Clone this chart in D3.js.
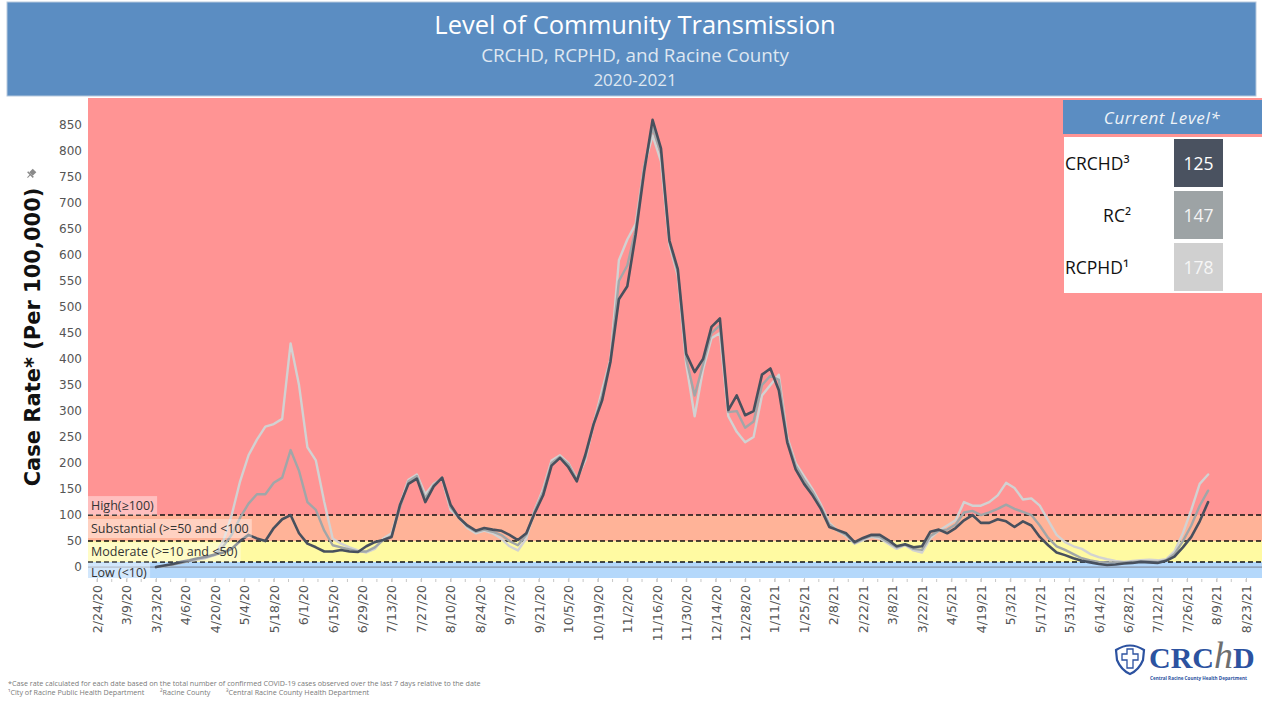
<!DOCTYPE html>
<html><head><meta charset="utf-8">
<script src="https://cdn.jsdelivr.net/npm/d3@7"></script>
<style>
body{margin:0;background:#fff;}
svg{display:block;}
</style></head>
<body>
<svg id="chart" width="1262" height="702"></svg>
<script>
// ---------------- DATA ----------------
const seriesNames = ["RCPHD", "RC", "CRCHD"];
const sampleStart = "3/23/20";   // first sample date
const sampleStepDays = 4;        // samples every 4 days

const rcphd = [0,2,5,8,12,15,18,24,50,100,
165,215,245,270,275,285,430,350,230,205,
125,55,45,38,32,28,35,55,65,120,
168,178,140,160,170,110,95,75,65,70,
65,55,40,32,55,110,150,205,215,200,
170,205,275,340,400,590,630,660,770,830,
780,620,560,390,290,380,440,450,290,260,
240,250,330,350,370,250,200,175,150,120,
85,70,60,45,52,58,55,45,35,42,
32,28,55,70,80,90,125,118,118,125,
138,162,152,130,132,118,90,62,48,40,
35,25,19,15,12,10,12,13,14,13,
15,30,65,110,160,178];

const rc = [0,2,5,8,12,15,18,23,40,62,
95,122,140,140,162,172,225,185,125,110,
70,42,38,34,30,30,38,52,60,115,
165,175,132,158,172,115,95,78,68,72,
68,62,50,42,62,108,145,200,212,198,
168,210,275,330,398,550,580,650,770,845,
795,625,566,400,330,390,450,465,298,300,
268,280,350,368,360,245,195,168,145,116,
82,70,62,46,54,60,58,48,38,43,
35,33,60,70,72,82,105,108,100,105,
112,120,112,106,100,80,56,40,33,25,
17,13,10,9,9,9,10,11,11,10,
13,25,50,80,118,147];

const crchd = [0,3,6,10,13,17,20,24,28,35,
50,62,55,50,75,92,100,65,45,38,
30,30,33,30,29,40,48,52,58,120,
160,170,125,155,172,120,95,80,70,75,
72,70,62,52,65,104,138,195,210,192,
165,215,275,320,395,515,540,640,760,860,
805,628,573,410,375,400,462,478,302,330,
292,300,370,382,340,240,188,160,138,112,
77,71,65,48,56,62,62,52,40,44,
38,40,68,72,65,75,90,100,85,85,
92,88,77,88,80,58,42,28,23,17,
12,9,6,4,5,7,8,10,9,8,
12,20,38,58,88,125];

const currentLevels = [125, 147, 178];
const currentLabels = ["CRCHD³", "RC²", "RCPHD¹"];

const xTickLabels = ["2/24/20","3/9/20","3/23/20","4/6/20","4/20/20","5/4/20","5/18/20","6/1/20",
"6/15/20","6/29/20","7/13/20","7/27/20","8/10/20","8/24/20","9/7/20","9/21/20","10/5/20",
"10/19/20","11/2/20","11/16/20","11/30/20","12/14/20","12/28/20","1/11/21","1/25/21","2/8/21",
"2/22/21","3/8/21","3/22/21","4/5/21","4/19/21","5/3/21","5/17/21","5/31/21","6/14/21",
"6/28/21","7/12/21","7/26/21","8/9/21","8/23/21"];
const yTickValues = [0,50,100,150,200,250,300,350,400,450,500,550,600,650,700,750,800,850];

const levelNames = ["Low (<10)", "Moderate (>=10 and <50)", "Substantial (>=50 and <100", "High(≥100)"];
const levelBreaks = [10, 50, 100];

// ---------------- LAYOUT ----------------
const svg = d3.select("#chart");
const plot = {left: 88, right: 1262, top: 98, bottom: 578};
const parse = d3.timeParse("%m/%d/%y");
const tickDates = xTickLabels.map(parse);
const startDate = parse(sampleStart);
const dates = crchd.map((d, i) => d3.timeDay.offset(startDate, i * sampleStepDays));

const x = d3.scaleTime().domain([tickDates[0], tickDates[tickDates.length - 1]]).range([97, 1246]);
const y = d3.scaleLinear().domain([-21, 902]).range([plot.bottom, plot.top]);

const sansUI = "'Open Sans', 'Noto Sans', sans-serif";
const sansAxis = "'DejaVu Sans', Verdana, sans-serif";

// ---------------- TITLE BAND ----------------
svg.append("rect").attr("x", 7).attr("y", 2).attr("width", 1249).attr("height", 94)
  .attr("fill", "#5b8dc2").attr("stroke", "#b7c9de").attr("stroke-width", 1);
svg.append("text").attr("x", 635).attr("y", 34).attr("text-anchor", "middle")
  .attr("fill", "#ffffff").style("font-family", sansUI).style("font-size", "25.5px")
  .text("Level of Community Transmission");
svg.append("text").attr("x", 635).attr("y", 62).attr("text-anchor", "middle")
  .attr("fill", "#dfe7f1").style("font-family", sansUI).style("font-size", "18.8px")
  .text("CRCHD, RCPHD, and Racine County");
svg.append("text").attr("x", 635).attr("y", 86).attr("text-anchor", "middle")
  .attr("fill", "#dfe7f1").style("font-family", sansUI).style("font-size", "17px")
  .text("2020-2021");

// ---------------- BANDS ----------------
const bandColors = ["#b4d8fb", "#fffaa2", "#ffb398", "#ff9494"];
const bandEdges = [y.domain()[0], ...levelBreaks, y.domain()[1]];
const bands = svg.append("g");
bandColors.forEach((c, i) => {
  bands.append("rect").attr("x", plot.left).attr("width", plot.right - plot.left)
    .attr("y", y(bandEdges[i + 1])).attr("height", y(bandEdges[i]) - y(bandEdges[i + 1]))
    .attr("fill", c);
});

// zero line
svg.append("line").attr("x1", plot.left).attr("x2", plot.right)
  .attr("y1", y(0)).attr("y2", y(0)).attr("stroke", "#7a8290").attr("stroke-width", 1);

// threshold dashed lines
levelBreaks.forEach(v => {
  svg.append("line").attr("x1", plot.left).attr("x2", plot.right)
    .attr("y1", y(v)).attr("y2", y(v)).attr("stroke", "#111").attr("stroke-width", 1.5)
    .attr("stroke-dasharray", "5,3");
});

// ---------------- LINES ----------------
svg.append("clipPath").attr("id", "clip").append("rect")
  .attr("x", plot.left).attr("y", plot.top).attr("width", plot.right - plot.left).attr("height", plot.bottom - plot.top);
const line = d3.line().x((d, i) => x(dates[i])).y(d => y(d));
const seriesData = [rcphd, rc, crchd];
const seriesColors = ["#d2d2d2", "#a1a6a8", "#48505d"];
const lines = svg.append("g").attr("clip-path", "url(#clip)");
seriesData.forEach((s, k) => {
  lines.append("path").datum(s).attr("d", line).attr("fill", "none")
    .attr("stroke", seriesColors[k]).attr("stroke-width", k === 2 ? 2.6 : 2.4)
    .attr("stroke-linejoin", "round").attr("stroke-linecap", "round");
});

// ---------------- BAND LABELS ----------------
const labelBase = [ (y(0)+y(-21))/2 + 4, (y(10)+y(50))/2 + 5, (y(50)+y(100))/2 + 5, y(100) - 5 ];
levelNames.forEach((t, i) => {
  const g = svg.append("g");
  const txt = g.append("text").attr("x", plot.left + 3).attr("y", labelBase[i])
    .attr("fill", "#333").style("font-family", sansUI).style("font-size", "12.5px").text(t);
  const bb = txt.node().getBBox();
  g.insert("rect", "text").attr("x", plot.left).attr("y", bb.y - 1)
    .attr("width", bb.width + 6).attr("height", bb.height + 2)
    .attr("fill", "#ffffff").attr("fill-opacity", 0.4);
});

// ---------------- AXES ----------------
const yAxis = svg.append("g").attr("transform", `translate(${plot.left},0)`)
  .call(d3.axisLeft(y).tickValues(yTickValues).tickSize(0).tickPadding(6));
yAxis.select(".domain").remove();
yAxis.selectAll("text").style("font-family", sansAxis).style("font-size", "12px").attr("fill", "#555");

// weekly minor ticks
const weekTicks = d3.timeDay.range(tickDates[0], d3.timeDay.offset(tickDates[tickDates.length-1], 1), 7);
svg.append("g").selectAll("line").data(weekTicks).join("line")
  .attr("x1", d => x(d)).attr("x2", d => x(d)).attr("y1", plot.bottom + 1).attr("y2", plot.bottom + 4)
  .attr("stroke", "#c8c8c8").attr("stroke-width", 1);

const xAxis = svg.append("g").attr("transform", `translate(0,${plot.bottom})`)
  .call(d3.axisBottom(x).tickValues(tickDates).tickFormat((d, i) => xTickLabels[i]).tickSize(4));
xAxis.select(".domain").remove();
xAxis.selectAll(".tick line").attr("stroke", "#c8c8c8");
xAxis.selectAll("text").attr("transform", "rotate(-90)").attr("x", -7).attr("y", 0).attr("dy", "0.35em")
  .style("text-anchor", "end").style("font-family", sansAxis).style("font-size", "12.5px").attr("fill", "#555");

// y axis title
svg.append("text").attr("transform", "translate(40,337) rotate(-90)").attr("text-anchor", "middle")
  .attr("fill", "#111").style("font-family", sansAxis).style("font-weight", "bold").style("font-size", "21px")
  .text("Case Rate* (Per 100,000)");
// pin icon
const pin = svg.append("g").attr("transform", "translate(31,174) rotate(45)");
pin.append("rect").attr("x", -2.5).attr("y", -5).attr("width", 5).attr("height", 5).attr("fill", "#8a8a8a");
pin.append("rect").attr("x", -4).attr("y", 0).attr("width", 8).attr("height", 1.5).attr("fill", "#8a8a8a");
pin.append("line").attr("x1", 0).attr("x2", 0).attr("y1", 1).attr("y2", 5).attr("stroke", "#8a8a8a").attr("stroke-width", 1);

// ---------------- CURRENT LEVEL LEGEND ----------------
const lg = svg.append("g");
lg.append("rect").attr("x", 1063).attr("y", 100).attr("width", 199).attr("height", 34).attr("fill", "#5b8dc2");
lg.append("text").attr("x", 1162).attr("y", 124).attr("text-anchor", "middle").attr("fill", "#eef3f8")
  .style("font-family", sansUI).style("font-style", "italic").style("font-size", "17px").style("letter-spacing", "0.6px")
  .text("Current Level*");
lg.append("rect").attr("x", 1064).attr("y", 137).attr("width", 198).attr("height", 156).attr("fill", "#ffffff");
const boxColors = ["#4a5260", "#9da3a5", "#d0d0d0"];
const textColors = ["#ffffff", "#f4f4f4", "#f6f6f6"];
const rowY = [139, 191, 243];
const labelAnchor = ["start", "end", "start"];
const labelX = [1065, 1131, 1065];
currentLevels.forEach((v, i) => {
  lg.append("rect").attr("x", 1174).attr("y", rowY[i]).attr("width", 49).attr("height", 48).attr("fill", boxColors[i]);
  lg.append("text").attr("x", 1198.5).attr("y", rowY[i] + 31).attr("text-anchor", "middle").attr("fill", textColors[i])
    .style("font-family", sansUI).style("font-size", "17.5px").text(v);
  lg.append("text").attr("x", labelX[i]).attr("y", rowY[i] + 31).attr("text-anchor", labelAnchor[i]).attr("fill", "#111")
    .style("font-family", sansUI).style("font-size", "17.5px").style("font-weight", "500").text(currentLabels[i]);
});

// ---------------- FOOTNOTES ----------------
svg.append("text").attr("x", 8).attr("y", 686).attr("fill", "#7a7a7a").style("font-family", sansUI).style("font-size", "7.2px")
  .text("*Case rate calculated for each date based on the total number of confirmed COVID-19 cases observed over the last 7 days relative to the date");
const fn2 = ["¹City of Racine Public Health Department", "²Racine County", "³Central Racine County Health Department"];
const fn2x = [8, 160, 226];
fn2.forEach((t, i) => svg.append("text").attr("x", fn2x[i]).attr("y", 695).attr("fill", "#7a7a7a")
  .style("font-family", sansUI).style("font-size", "7.2px").text(t));

// ---------------- LOGO ----------------
const logo = svg.append("g");
logo.append("path").attr("d", "M1116,650 Q1130,641 1144,650 L1143,660 Q1139,670 1130,674 Q1121,670 1117,660 Z")
  .attr("fill", "#fff").attr("stroke", "#2c52a0").attr("stroke-width", 2.2);
logo.append("path").attr("d", "M1127,649 h6 v5 h5 v6 h-5 v8 h-6 v-8 h-5 v-6 h5 Z")
  .attr("fill", "#fff").attr("stroke", "#2c52a0").attr("stroke-width", 1.3);
const logoText = logo.append("text").attr("x", 1149).attr("y", 668)
  .style("font-family", "'Liberation Serif', serif").style("font-size", "30px");
logoText.append("tspan").attr("fill", "#2c52a0").style("font-weight", "bold").text("CRC");
logoText.append("tspan").attr("fill", "#6e6e6e").style("font-style", "italic").style("font-size", "38px").text("h");
logoText.append("tspan").attr("fill", "#2c52a0").style("font-weight", "bold").text("D");
logo.append("text").attr("x", 1150).attr("y", 680).attr("fill", "#2c52a0")
  .style("font-family", sansUI).style("font-weight", "bold").style("font-size", "4.6px")
  .text("Central Racine County Health Department");
</script>
</body></html>
